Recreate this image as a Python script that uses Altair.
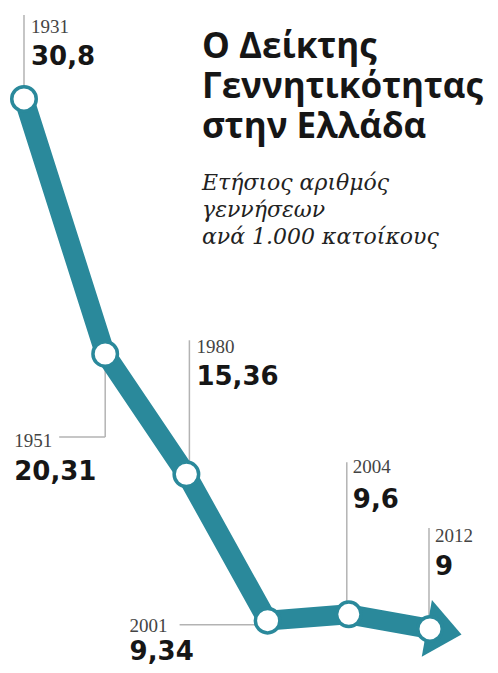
import math
import altair as alt
import pandas as pd

# ---- data -------------------------------------------------------------
years = ["1931", "1951", "1980", "2001", "2004", "2012"]
values = [30.8, 20.31, 15.36, 9.34, 9.6, 9.0]
value_labels = ["30,8", "20,31", "15,36", "9,34", "9,6", "9"]
title_lines = ["Ο Δείκτης", "Γεννητικότητας", "στην Ελλάδα"]
subtitle_lines = ["Ετήσιος αριθμός", "γεννήσεων", "ανά 1.000 κατοίκους"]

df = pd.DataFrame({"i": list(range(len(years))), "year": years,
                   "value": values, "label": value_labels})

# ---- styling ------------------------------------------------------------
W, H = 482, 657
TEAL = "#2a899b"
LEADER = "#b3b3b3"
XDOM = [-0.197, 5.739]
YDOM = [7.515, 34.541]

X = alt.X("i:Q", scale=alt.Scale(domain=XDOM, nice=False, zero=False), axis=None)
Y = alt.Y("value:Q", scale=alt.Scale(domain=YDOM, nice=False, zero=False), axis=None)

# annotation layout per point: (year dx, year dy), (value dx, value dy), leaders
layout = [
    dict(yr=(7, -66), val=(7, -34), leaders=[("v", 0, -84)]),
    dict(yr=(-91, 93), val=(-91, 126), leaders=[("v", 0, 83), ("h", 83, -46)]),
    dict(yr=(10, -121), val=(10, -89), leaders=[("v", 3, -134)]),
    dict(yr=(-138, 11), val=(-138, 39), leaders=[("h", 4, -88)]),
    dict(yr=(4, -141), val=(4, -106), leaders=[("v", -2, -152)]),
    dict(yr=(5, -87), val=(5, -54), leaders=[("v", -1, -101)]),
]

layers = []
# leader lines
for k, spec in enumerate(layout):
    for kind, off, length in spec["leaders"]:
        c = alt.Chart(df).transform_filter(alt.datum.i == k)
        if kind == "v":
            layers.append(
                c.mark_rule(color=LEADER, strokeWidth=1.5, xOffset=off, y2Offset=length)
                .encode(x=X, y=Y, y2=alt.Y2("value"))
            )
        else:
            layers.append(
                c.mark_rule(color=LEADER, strokeWidth=1.5, yOffset=off, x2Offset=length)
                .encode(x=X, x2=alt.X2("i"), y=Y)
            )

# main thick line
layers.append(
    alt.Chart(df).mark_line(color=TEAL, strokeWidth=20, strokeJoin="round",
                            strokeCap="butt").encode(x=X, y=Y, order="i:Q")
)

# arrow head, following the last segment
ppx = W / (XDOM[1] - XDOM[0])
ppy = H / (YDOM[1] - YDOM[0])
angle = math.degrees(math.atan2((values[-2] - values[-1]) * ppy, ppx))
ARROW = "M -0.1 -0.9 L 1 0 L -0.1 0.9 Z"
layers.append(
    alt.Chart(df).transform_filter(alt.datum.i == len(years) - 1)
    .mark_point(shape=ARROW, filled=True, color=TEAL, opacity=1, size=4096,
                angle=round(angle, 2), strokeWidth=0)
    .encode(x=X, y=Y)
)

# circles
layers.append(
    alt.Chart(df).mark_point(shape="circle", filled=True, fill="white", stroke=TEAL,
                             strokeWidth=3.5, size=600, opacity=1)
    .encode(x=X, y=Y)
)

# labels
for k, spec in enumerate(layout):
    c = alt.Chart(df).transform_filter(alt.datum.i == k)
    layers.append(
        c.mark_text(align="left", baseline="alphabetic", dx=spec["yr"][0], dy=spec["yr"][1],
                    font="Liberation Serif", fontSize=19, color="#444444")
        .encode(x=X, y=Y, text="year:N")
    )
    layers.append(
        c.mark_text(align="left", baseline="alphabetic", dx=spec["val"][0], dy=spec["val"][1],
                    font="DejaVu Sans", fontWeight="bold", fontSize=26,
                    color="#161616")
        .encode(x=X, y=Y, text="label:N")
    )

# title and subtitle
one = pd.DataFrame({"t": [0]})
layers.append(
    alt.Chart(one).mark_text(align="left", baseline="alphabetic", font="Open Sans",
                             fontWeight="bold", fontSize=35, lineHeight=40, color="#161616")
    .encode(x=alt.value(194), y=alt.value(50), text=alt.value(title_lines))
)
layers.append(
    alt.Chart(one).mark_text(align="left", baseline="alphabetic", font="DejaVu Serif",
                             fontStyle="italic", fontSize=22, lineHeight=27, color="#222222")
    .encode(x=alt.value(194), y=alt.value(182), text=alt.value(subtitle_lines))
)

chart = (
    alt.layer(*layers)
    .properties(width=W, height=H, padding=0,
                autosize=alt.AutoSizeParams(type="none"), background="white")
    .configure_view(strokeWidth=0)
)

chart.save("out.html", embed_options={"renderer": "svg", "actions": False})
